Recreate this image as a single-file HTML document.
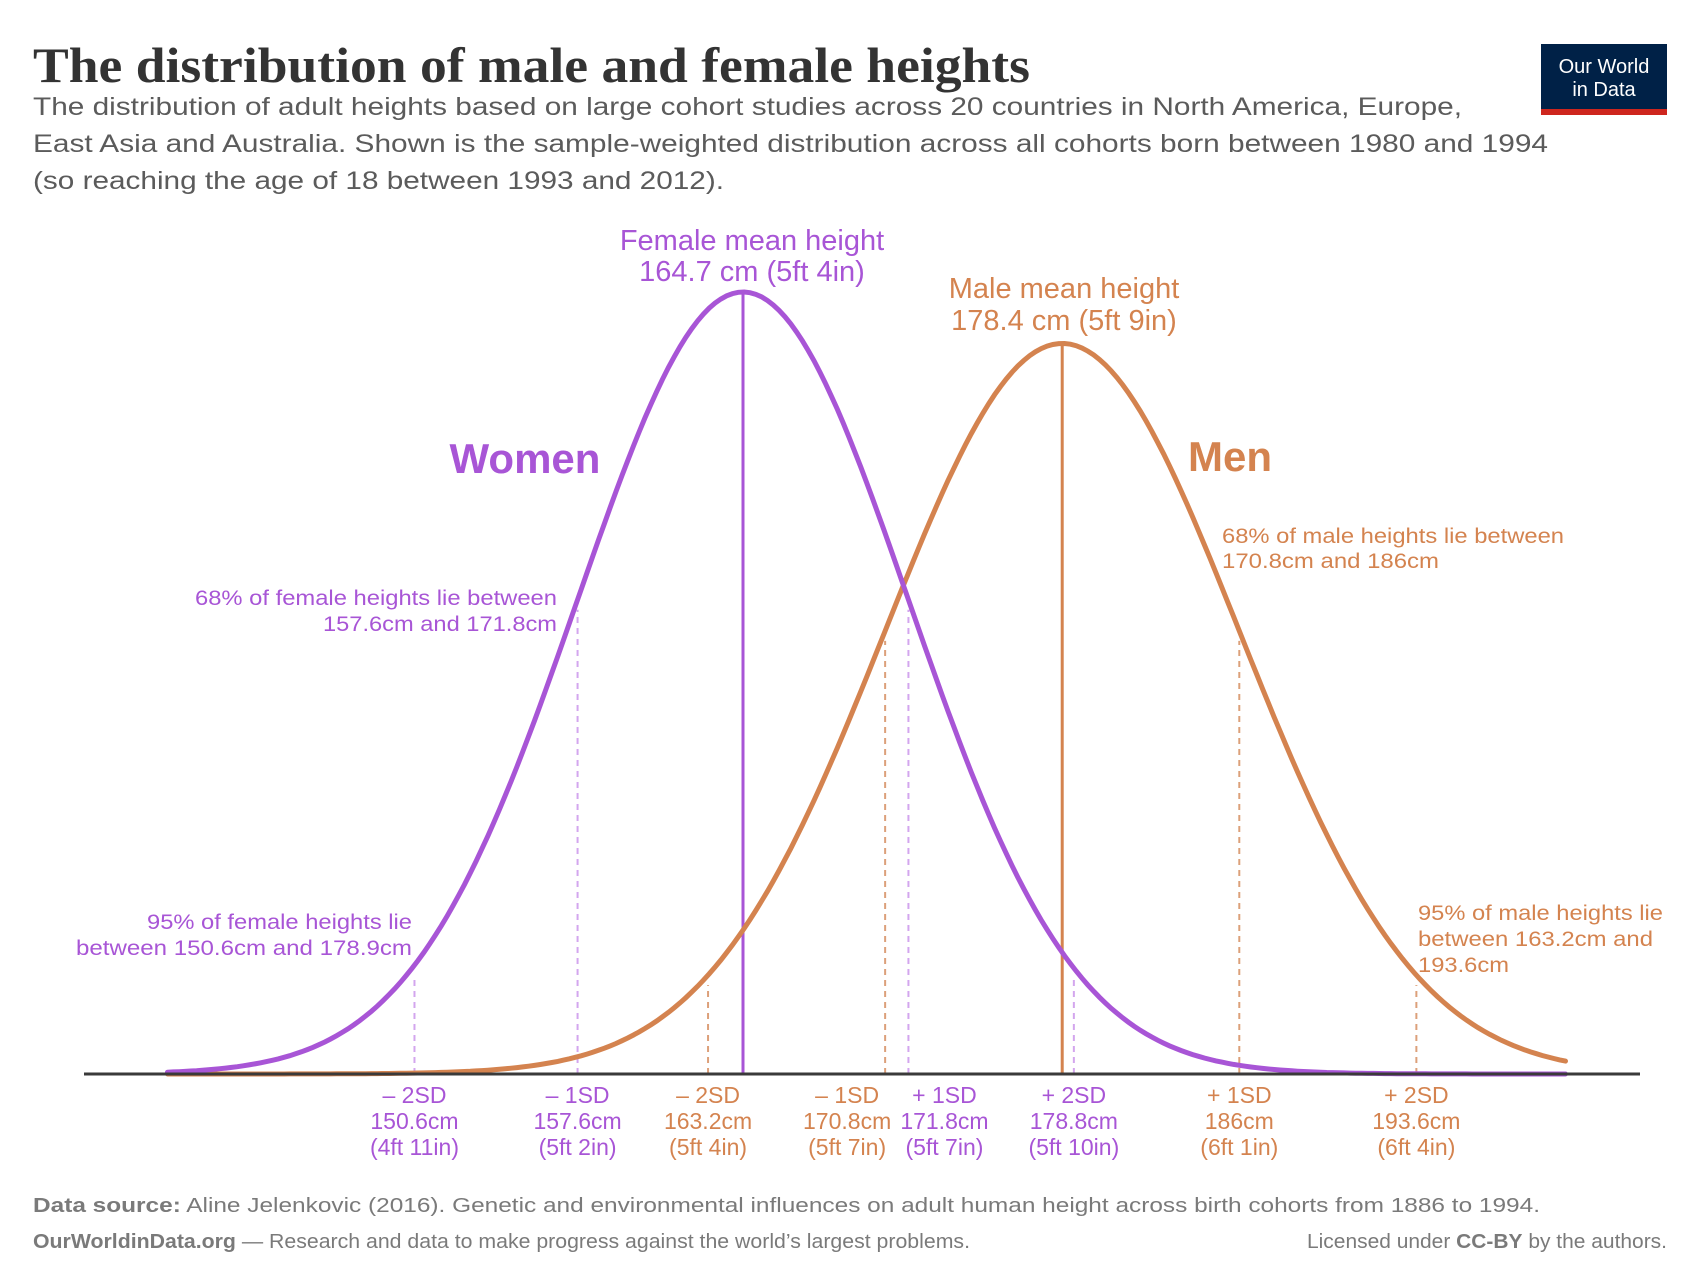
<!DOCTYPE html>
<html><head><meta charset="utf-8">
<style>
html,body{margin:0;padding:0;background:#fff;}
svg{display:block;font-family:"Liberation Sans",sans-serif;}
</style></head>
<body>
<svg id="chart" width="1700" height="1276" viewBox="0 0 1700 1276" xmlns="http://www.w3.org/2000/svg">
  <text x="33" y="82" font-family="Liberation Serif, serif" font-weight="bold" font-size="50" fill="#333" textLength="997" lengthAdjust="spacingAndGlyphs">The distribution of male and female heights</text>
  <g font-size="25" fill="#5b5b5b">
    <text x="33" y="115" textLength="1429" lengthAdjust="spacingAndGlyphs">The distribution of adult heights based on large cohort studies across 20 countries in North America, Europe,</text>
    <text x="33" y="152" textLength="1515" lengthAdjust="spacingAndGlyphs">East Asia and Australia. Shown is the sample-weighted distribution across all cohorts born between 1980 and 1994</text>
    <text x="33" y="189" textLength="691" lengthAdjust="spacingAndGlyphs">(so reaching the age of 18 between 1993 and 2012).</text>
  </g>
  <g>
    <rect x="1541" y="44" width="126" height="71" fill="#002147"/>
    <rect x="1541" y="109" width="126" height="6" fill="#ce261e"/>
    <text x="1604" y="73" text-anchor="middle" font-size="20" fill="#fff">Our World</text>
    <text x="1604" y="96" text-anchor="middle" font-size="20" fill="#fff">in Data</text>
  </g>
  <g id="plot"></g>
  <g font-size="20" fill="#7a7a7a">
    <text x="33" y="1212" textLength="1507" lengthAdjust="spacingAndGlyphs"><tspan font-weight="bold">Data source:</tspan> Aline Jelenkovic (2016). Genetic and environmental influences on adult human height across birth cohorts from 1886 to 1994.</text>
    <text x="33" y="1248" textLength="937" lengthAdjust="spacingAndGlyphs"><tspan font-weight="bold">OurWorldinData.org</tspan> — Research and data to make progress against the world’s largest problems.</text>
    <text x="1307" y="1248" textLength="360" lengthAdjust="spacingAndGlyphs">Licensed under <tspan font-weight="bold">CC-BY</tspan> by the authors.</text>
  </g>
</svg>
<script>
// ---- data ----
const groups = ["Women", "Men"];
const means = [164.7, 178.4];
const sds = [7.1, 7.6];
const rangeCm = [140, 200];
const sdMarkers = [
  {g:0, cm:150.6, lines:["– 2SD","150.6cm","(4ft 11in)"], dx:0},
  {g:0, cm:157.6, lines:["– 1SD","157.6cm","(5ft 2in)"], dx:0},
  {g:1, cm:163.2, lines:["– 2SD","163.2cm","(5ft 4in)"], dx:0},
  {g:1, cm:170.8, lines:["– 1SD","170.8cm","(5ft 7in)"], dx:-38},
  {g:0, cm:171.8, lines:["+ 1SD","171.8cm","(5ft 7in)"], dx:36},
  {g:0, cm:178.9, lines:["+ 2SD","178.8cm","(5ft 10in)"], dx:0},
  {g:1, cm:186.0, lines:["+ 1SD","186cm","(6ft 1in)"], dx:0},
  {g:1, cm:193.6, lines:["+ 2SD","193.6cm","(6ft 4in)"], dx:0}
];
// ---- layout ----
const colors = ["#a855d6", "#d4834f"];
const dashColors = ["#d3a6ee", "#dca07a"];
const x0 = 743, pxPerCm = 23.3, baseY = 1074, peakFemale = 782;
const k = peakFemale * sds[0];
const xs = cm => x0 + (cm - means[0]) * pxPerCm;
const pdf = (cm, g) => (k / sds[g]) * Math.exp(-0.5 * Math.pow((cm - means[g]) / sds[g], 2));
const ys = (cm, g) => baseY - pdf(cm, g);
const NS = "http://www.w3.org/2000/svg";
const plot = document.getElementById("plot");
function mk(tag, attrs, parent) {
  const e = document.createElementNS(NS, tag);
  for (const a in attrs) e.setAttribute(a, attrs[a]);
  (parent || plot).appendChild(e);
  return e;
}
// dashed SD lines
sdMarkers.forEach(m => {
  const x = xs(m.cm);
  const l = mk("line", {x1:x, x2:x, y1:baseY, y2:ys(m.cm, m.g) + 10, stroke:dashColors[m.g], "stroke-width":2, "stroke-dasharray":"6 5"});
  
  
  const t = mk("text", {x:x + m.dx, y:1103, "text-anchor":"middle", "font-size":23, fill:colors[m.g]});
  
  
  m.lines.forEach((s, i) => {
    const ts = mk("tspan", {x:x + m.dx, y:1103 + i * 26}, t);
    ts.textContent = s;
  });
});
// mean lines
[0, 1].forEach(g => {
  const x = xs(means[g]);
  const l = mk("line", {x1:x, x2:x, y1:baseY, y2:ys(means[g], g), stroke:colors[g], "stroke-width":3});
  
  
});
// curves
[1, 0].forEach(g => {
  let d = "";
  for (let cm = rangeCm[0]; cm <= rangeCm[1] + 1e-9; cm += 0.25) {
    d += (d ? "L" : "M") + xs(cm).toFixed(1) + "," + ys(cm, g).toFixed(1);
  }
  const p = mk("path", {d:d, fill:"none", stroke:colors[g], "stroke-width":5, "stroke-linecap":"round"});
  
  
});
// axis
const ax = mk("line", {x1:84, x2:1640, y1:baseY, y2:baseY, stroke:"#3a3a3a", "stroke-width":3});


// annotations
function label(name, lines, x, y, anchor, size, color, weight, lh, widths) {
  const t = mk("text", {x:x, y:y, "text-anchor":anchor, "font-size":size, fill:color, "font-weight":weight || "normal"});
  
  
  lines.forEach((s, i) => {
    const at = {x:x, y:y + i * (lh || 0)};
    if (widths) { at.textLength = widths[i]; at.lengthAdjust = "spacingAndGlyphs"; }
    const ts = mk("tspan", at, t); ts.textContent = s;
  });
}
label("female-mean-label", ["Female mean height", "164.7 cm (5ft 4in)"], 752, 250, "middle", 29, colors[0], "normal", 31);
label("male-mean-label", ["Male mean height", "178.4 cm (5ft 9in)"], 1064, 298, "middle", 29, colors[1], "normal", 32);
label("women-label", ["Women"], 525, 473, "middle", 42, colors[0], "bold", 0);
label("men-label", ["Men"], 1188, 471, "start", 42, colors[1], "bold", 0);
label("female-68-annotation", ["68% of female heights lie between", "157.6cm and 171.8cm"], 557, 605, "end", 21, colors[0], "normal", 26, [362, 234]);
label("male-68-annotation", ["68% of male heights lie between", "170.8cm and 186cm"], 1222, 543, "start", 21, colors[1], "normal", 25, [342, 217]);
label("female-95-annotation", ["95% of female heights lie", "between 150.6cm and 178.9cm"], 412, 929, "end", 21, colors[0], "normal", 26, [265, 336]);
label("male-95-annotation", ["95% of male heights lie", "between 163.2cm and", "193.6cm"], 1418, 920, "start", 21, colors[1], "normal", 26, [245, 235, 91]);
</script>
</body></html>
